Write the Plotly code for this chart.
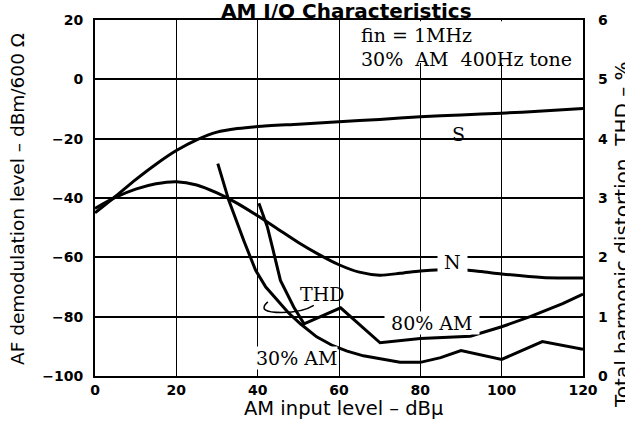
import plotly.graph_objects as go

# ---- data ----
x_s = [0, 5, 10, 15, 20, 25, 30, 35, 40, 50, 60, 70, 80, 90, 100, 110, 120]
s_dbm = [-45, -39.5, -33.8, -28.6, -24, -20.4, -17.8, -16.6, -15.9, -15.1, -14.3,
         -13.5, -12.6, -12.0, -11.4, -10.7, -9.8]

x_n = [0, 5, 10, 15, 20, 25, 30, 35, 40, 45, 50, 55, 60, 65, 70, 75, 80, 85, 90,
       95, 100, 110, 120]
n_dbm = [-43.5, -39.8, -37, -35.2, -34.5, -35.6, -38.3, -41.8, -46, -50.5, -55,
         -59, -62.5, -65, -66, -65.4, -64.6, -64.2, -64.2, -64.8, -65.6, -66.8, -67]

x_thd30 = [30.2, 32.9, 36.6, 39.5, 42, 44.7, 47.5, 50.5, 54.5, 58.5, 62, 66, 70,
           75, 80, 85, 90, 100, 110, 120]
thd30 = [3.58, 2.96, 2.28, 1.78, 1.5, 1.28, 1.07, 0.88, 0.66, 0.51, 0.42, 0.34,
         0.29, 0.23, 0.23, 0.31, 0.43, 0.28, 0.58, 0.45]

x_thd80 = [40.3, 42.4, 43.8, 45.6, 48.9, 51.4, 60.4, 70.1, 80, 92.3, 100, 107,
           115, 120]
thd80 = [2.91, 2.51, 2.12, 1.61, 1.16, 0.88, 1.15, 0.56, 0.63, 0.67, 0.83, 1.0,
         1.22, 1.38]

x_ticks = [0, 20, 40, 60, 80, 100, 120]
y_ticks = [20, 0, -20, -40, -60, -80, -100]
thd_ticks = [0, 1, 2, 3, 4, 5, 6]

LINE = dict(color="black", width=3)
SERIF = "DejaVu Serif"
SANS = "DejaVu Sans"

fig = go.Figure()
fig.add_trace(go.Scatter(x=x_s, y=s_dbm, mode="lines", line=dict(**LINE, shape="spline", smoothing=0.8), name="S"))
fig.add_trace(go.Scatter(x=x_n, y=n_dbm, mode="lines", line=dict(**LINE, shape="spline", smoothing=0.8), name="N"))
fig.add_trace(go.Scatter(x=x_thd30, y=thd30, mode="lines", line=LINE, yaxis="y2", name="30% AM"))
fig.add_trace(go.Scatter(x=x_thd80, y=thd80, mode="lines", line=LINE, yaxis="y2", name="80% AM"))

tickfont = dict(family=SANS, size=14, color="black", weight="bold")

fig.update_layout(
    width=625, height=428,
    margin=dict(l=95, r=42, t=20, b=52, autoexpand=False),
    paper_bgcolor="white", plot_bgcolor="white",
    showlegend=False,
    xaxis=dict(range=[0, 120], tickvals=x_ticks, showgrid=True, gridcolor="black", gridwidth=1,
               zeroline=False, showline=True, linecolor="black", linewidth=2, mirror=True,
               ticks="", tickfont=tickfont, ticklabelstandoff=0, automargin=False),
    yaxis=dict(range=[-100, 20], tickvals=y_ticks, showgrid=True, gridcolor="black", gridwidth=1.5,
               zeroline=False, showline=True, linecolor="black", linewidth=2, mirror=True,
               ticks="", tickfont=tickfont, ticklabelstandoff=7, automargin=False),
    yaxis2=dict(range=[0, 6], tickvals=thd_ticks, overlaying="y", side="right", showgrid=False,
                zeroline=False, showline=False, ticks="", tickfont=tickfont, ticklabelstandoff=14,
                automargin=False),
)

# chart title
fig.add_annotation(xref="paper", yref="paper", x=(346 - 95) / 488, y=(376 - 11) / 356,
                   text="AM I/O Characteristics", showarrow=False, xanchor="center", yanchor="middle",
                   font=dict(family=SANS, size=20, color="black", weight="bold"))

# condition box (white background over the grid)
fig.add_shape(type="rect", xref="x", yref="y", x0=60.4, x1=119.6, y0=5.5, y1=19.6,
              fillcolor="white", line=dict(width=0), layer="above")

# THD curl
fig.add_shape(type="path", xref="x", yref="y",
              path="M 42.5,-75 Q 39.5,-78.6 46,-78.6 Q 51,-78.6 53.8,-76.2",
              line=dict(color="black", width=1.5))

nb = "\u00a0"
ann = [
    dict(x=65.2, y=15.0, text="fin" + nb + "=" + nb + "1MHz", xanchor="left"),
    dict(x=65.2, y=6.9, text="30%" + nb + nb + "AM" + nb + nb + "400Hz" + nb + "tone", xanchor="left"),
    dict(x=89.4, y=-18.3, text="S", xanchor="center"),
    dict(x=88, y=-61.5, text=nb + "N" + nb, xanchor="center", bg=True),
    dict(x=55.9, y=-72.5, text="THD", xanchor="center"),
    dict(x=82.9, y=-82.3, text=nb + "80%" + nb + "AM" + nb, xanchor="center", bg=True),
    dict(x=49.5, y=-94.0, text="30%" + nb + "AM", xanchor="center", bg=True),
]
for a in ann:
    fig.add_annotation(x=a["x"], y=a["y"], xref="x", yref="y", text=a["text"], showarrow=False,
                       xanchor=a["xanchor"], yanchor="middle",
                       font=dict(family=SERIF, size=19, color="black"),
                       bgcolor="white" if a.get("bg") else "rgba(0,0,0,0)", borderpad=0)

# axis titles
fig.add_annotation(xref="paper", yref="paper", x=(343 - 95) / 488, y=(376 - 408) / 356,
                   text="AM input level \u2013 dB\u00b5", showarrow=False, xanchor="center", yanchor="middle",
                   font=dict(family=SANS, size=19.5, color="black"))
fig.add_annotation(xref="paper", yref="paper", x=(17 - 95) / 488, y=(376 - 199) / 356,
                   text="AF demodulation level \u2013 dBm/600 \u03a9", showarrow=False, textangle=-90,
                   xanchor="center", yanchor="middle",
                   font=dict(family=SANS, size=18.5, color="black"))
fig.add_annotation(xref="paper", yref="paper", x=(622 - 95) / 488, y=(376 - 235) / 356,
                   text="Total harmonic distortion" + nb + nb + "THD \u2013 %", showarrow=False, textangle=-90,
                   xanchor="center", yanchor="middle",
                   font=dict(family=SANS, size=20, color="black"))

fig.write_html("out.html", config={"displayModeBar": False},
               post_script="document.body.style.margin='0';document.body.style.overflow='hidden';")
